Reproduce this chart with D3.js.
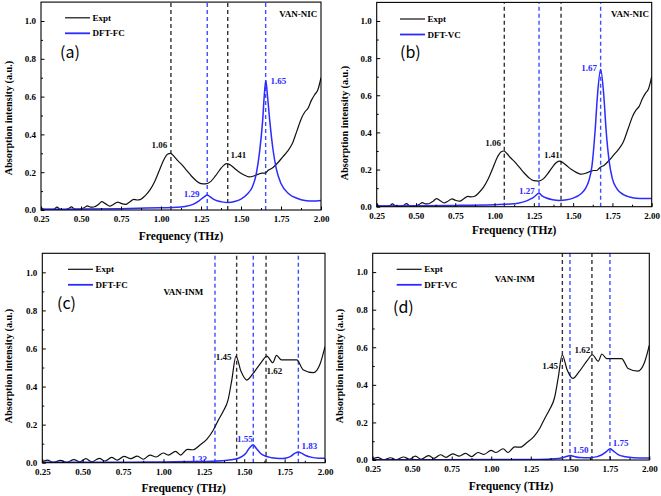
<!DOCTYPE html>
<html><head><meta charset="utf-8">
<script src="https://cdn.jsdelivr.net/npm/d3@7/dist/d3.min.js"></script>
<style>body{margin:0;background:#fff}svg{display:block}</style>
</head><body>
<svg id="c" width="661" height="496"></svg>
<script>
// ---------- DATA ----------
const xTicks = [0.25, 0.50, 0.75, 1.00, 1.25, 1.50, 1.75, 2.00];
const yTicks = [0.0, 0.2, 0.4, 0.6, 0.8, 1.0];

// Experimental spectrum VAN-NIC (panels a, b)
const exptNicFreq = [0.25,0.27,0.30,0.33,0.35,0.37,0.40,0.42,0.44,0.46,0.49,0.52,0.54,0.56,0.58,0.61,0.63,0.65,0.68,0.70,0.73,0.75,0.78,0.80,0.83,0.85,0.87,0.90,0.93,0.96,0.99,1.02,1.04,1.06,1.08,1.10,1.13,1.16,1.19,1.22,1.25,1.28,1.31,1.34,1.37,1.39,1.41,1.43,1.46,1.49,1.52,1.55,1.58,1.61,1.63,1.65,1.67,1.70,1.73,1.76,1.79,1.82,1.85,1.88,1.90,1.92,1.94,1.96,1.98,2.00];
const exptNicVal  = [0.014,0.004,0.003,0.004,0.015,0.004,0.002,0.006,0.017,0.005,0.004,0.012,0.022,0.015,0.016,0.030,0.044,0.035,0.020,0.028,0.042,0.035,0.030,0.040,0.056,0.053,0.055,0.075,0.105,0.15,0.21,0.27,0.295,0.30,0.285,0.265,0.24,0.21,0.18,0.155,0.14,0.138,0.15,0.18,0.215,0.235,0.245,0.24,0.22,0.20,0.185,0.175,0.18,0.19,0.195,0.195,0.21,0.225,0.25,0.28,0.31,0.35,0.42,0.49,0.52,0.54,0.58,0.61,0.635,0.70];

// DFT-FC VAN-NIC (panel a)
const fcNicFreq = [0.25,0.50,0.75,1.00,1.10,1.15,1.20,1.24,1.27,1.29,1.31,1.34,1.38,1.42,1.46,1.50,1.54,1.57,1.595,1.615,1.635,1.645,1.655,1.665,1.68,1.70,1.72,1.75,1.80,1.85,1.90,1.95,2.00];
const fcNicVal  = [0.004,0.005,0.007,0.012,0.014,0.019,0.030,0.050,0.070,0.080,0.068,0.052,0.043,0.040,0.045,0.058,0.085,0.12,0.19,0.30,0.47,0.60,0.685,0.61,0.47,0.32,0.22,0.14,0.085,0.062,0.050,0.047,0.050];

// DFT-VC VAN-NIC (panel b)
const vcNicFreq = [0.25,0.50,0.75,1.00,1.10,1.15,1.20,1.23,1.25,1.283,1.30,1.33,1.37,1.41,1.46,1.50,1.55,1.58,1.60,1.62,1.64,1.655,1.675,1.695,1.71,1.73,1.75,1.78,1.82,1.86,1.90,1.95,2.00];
const vcNicVal  = [0.004,0.005,0.007,0.011,0.014,0.019,0.030,0.042,0.052,0.072,0.060,0.047,0.038,0.034,0.037,0.046,0.070,0.10,0.14,0.22,0.41,0.60,0.74,0.60,0.41,0.24,0.15,0.095,0.065,0.052,0.046,0.044,0.044];

// Experimental spectrum VAN-INM (panels c, d)
const exptInmFreq = [0.25,0.281,0.318,0.363,0.40,0.446,0.483,0.52,0.555,0.603,0.638,0.679,0.714,0.756,0.797,0.838,0.875,0.917,0.954,0.999,1.03,1.075,1.106,1.148,1.185,1.226,1.268,1.309,1.34,1.37,1.40,1.423,1.449,1.48,1.516,1.556,1.608,1.64,1.677,1.70,1.73,1.825,1.866,1.928,1.97,2.00];
const exptInmVal  = [0.005,0.014,0.002,0.012,0.002,0.016,0.004,0.021,0.004,0.023,0.009,0.028,0.014,0.033,0.021,0.035,0.018,0.040,0.030,0.051,0.040,0.060,0.040,0.070,0.068,0.093,0.123,0.172,0.224,0.27,0.33,0.434,0.56,0.48,0.434,0.47,0.53,0.56,0.525,0.564,0.54,0.54,0.487,0.473,0.52,0.61];

// DFT-FC VAN-INM (panel c)
const fcInmFreq = [0.25,0.80,1.00,1.20,1.30,1.38,1.44,1.48,1.51,1.53,1.555,1.575,1.60,1.63,1.67,1.72,1.76,1.79,1.815,1.835,1.855,1.88,1.92,1.96,2.00];
const fcInmVal  = [0.002,0.003,0.004,0.006,0.008,0.012,0.018,0.030,0.050,0.075,0.094,0.075,0.050,0.035,0.026,0.022,0.025,0.035,0.050,0.056,0.050,0.038,0.028,0.024,0.023];

// DFT-VC VAN-INM (panel d)
const vcInmFreq = [0.25,1.00,1.30,1.40,1.45,1.48,1.50,1.52,1.56,1.62,1.67,1.70,1.73,1.752,1.77,1.80,1.85,1.90,2.00];
const vcInmVal  = [0.001,0.002,0.003,0.006,0.012,0.020,0.024,0.020,0.013,0.012,0.018,0.028,0.046,0.060,0.050,0.030,0.017,0.012,0.010];

// Peak marker lines (frequency positions)
const linesA = {black:[1.062,1.417], blue:[1.289,1.654]};
const linesB = {black:[1.062,1.423], blue:[1.283,1.675]};
const linesC = {black:[1.453,1.635], blue:[1.319,1.556,1.835]};
const linesD = {black:[1.450,1.637], blue:[1.498,1.751]};

// Peak labels: text, frequency, intensity anchor
const labelsA = [["1.06",0.99,0.328,"k"],["1.41",1.483,0.275,"k"],["1.29",1.192,0.069,"b"],["1.65",1.733,0.667,"b"]];
const labelsB = [["1.06",0.991,0.327,"k"],["1.41",1.364,0.26,"k"],["1.27",1.205,0.067,"b"],["1.67",1.602,0.731,"b"]];
const labelsC = [["1.45",1.373,0.54,"k"],["1.62",1.686,0.466,"k"],["1.55",1.504,0.107,"b"],["1.83",1.903,0.072,"b"],["1.32",1.221,0.004,"b"]];
const labelsD = [["1.45",1.372,0.484,"k"],["1.62",1.577,0.571,"k"],["1.50",1.566,0.035,"b"],["1.75",1.819,0.074,"b"]];

const sampleNames = ["VAN-NIC","VAN-NIC","VAN-INM","VAN-INM"];
const samplePos = [[1.858,1.02],[1.862,1.02],[1.123,0.879],[1.149,0.945]];
const legendNames = [["Expt","DFT-FC"],["Expt","DFT-VC"],["Expt","DFT-FC"],["Expt","DFT-VC"]];
const panelTags = ["(a)","(b)","(c)","(d)"];

// ---------- LAYOUT ----------
const panels = [
  {L:41,R:321,T:2.1,B:210, ex:[exptNicFreq,exptNicVal], dft:[fcNicFreq,fcNicVal], lines:linesA, labels:labelsA,
   leg:{x:24,y:15.7}, tag:{x:60,y:57.5}, xt:{y:240}, yt:{x:12,y:118}},
  {L:376.7,R:651.7,T:2.4,B:206.7, ex:[exptNicFreq,exptNicVal], dft:[vcNicFreq,vcNicVal], lines:linesB, labels:labelsB,
   leg:{x:23.3,y:16.6}, tag:{x:400,y:57.5}, xt:{y:234}, yt:{x:348,y:123}},
  {L:42.3,R:325,T:253.3,B:462.7, ex:[exptInmFreq,exptInmVal], dft:[fcInmFreq,fcInmVal], lines:linesC, labels:labelsC,
   leg:{x:25.7,y:16}, tag:{x:57,y:309}, xt:{y:492}, yt:{x:12,y:366}},
  {L:372.7,R:649.3,T:253.3,B:460, ex:[exptInmFreq,exptInmVal], dft:[vcInmFreq,vcInmVal], lines:linesD, labels:labelsD,
   leg:{x:24,y:16}, tag:{x:393,y:312.5}, xt:{y:490}, yt:{x:343,y:366}}
];

const BLUE = "#2b2bff", BLUEDASH = "#3d4dff", BLACK = "#111", SERIF = "'Liberation Serif','Times New Roman',serif";
const svg = d3.select("#c");

panels.forEach((p, i) => {
  const x = d3.scaleLinear().domain([0.25, 2.0]).range([p.L, p.R]);
  const y = d3.scaleLinear().domain([0, 1.1]).range([p.B, p.T]);
  const g = svg.append("g");
  const cid = "clip" + i;
  svg.append("clipPath").attr("id", cid).append("rect")
    .attr("x", p.L).attr("y", p.T).attr("width", p.R - p.L).attr("height", p.B - p.T);

  // dashed peak lines
  const dl = g.append("g").attr("clip-path", `url(#${cid})`);
  p.lines.black.forEach(f => dl.append("line").attr("x1", x(f)).attr("x2", x(f)).attr("y1", y(0)).attr("y2", y(1.1))
    .attr("stroke", "#333").attr("stroke-width", 1.4).attr("stroke-dasharray", "4,3"));
  p.lines.blue.forEach(f => dl.append("line").attr("x1", x(f)).attr("x2", x(f)).attr("y1", y(0)).attr("y2", y(1.1))
    .attr("stroke", BLUEDASH).attr("stroke-width", 1.4).attr("stroke-dasharray", "4,3"));

  // curves
  const mk = arr => arr[0].map((f, k) => [f, arr[1][k]]);
  const line = d3.line().x(d => x(d[0])).y(d => y(d[1])).curve(d3.curveMonotoneX);
  const cg = g.append("g").attr("clip-path", `url(#${cid})`);
  cg.append("path").attr("d", line(mk(p.ex))).attr("fill", "none").attr("stroke", BLACK).attr("stroke-width", 1.2);
  cg.append("path").attr("d", line(mk(p.dft))).attr("fill", "none").attr("stroke", BLUE).attr("stroke-width", 1.5);

  // axes
  const xa = g.append("g").attr("transform", `translate(0,${p.B})`)
    .call(d3.axisBottom(x).tickValues(xTicks).tickFormat(d3.format(".2f")).tickSizeInner(-3.5).tickSizeOuter(0).tickPadding(5.6));
  const xm = g.append("g").attr("transform", `translate(0,${p.B})`)
    .call(d3.axisBottom(x).tickValues(d3.range(0.375, 2.0, 0.25)).tickFormat("").tickSizeInner(-2).tickSizeOuter(0));
  const ya = g.append("g").attr("transform", `translate(${p.L},0)`)
    .call(d3.axisLeft(y).tickValues(yTicks).tickFormat(d3.format(".1f")).tickSizeInner(-3.5).tickSizeOuter(0).tickPadding(5));
  const ym = g.append("g").attr("transform", `translate(${p.L},0)`)
    .call(d3.axisLeft(y).tickValues([0.1,0.3,0.5,0.7,0.9]).tickFormat("").tickSizeInner(-2).tickSizeOuter(0));
  [xa, xm, ya, ym].forEach(a => {
    a.select(".domain").remove();
    a.selectAll("line").attr("stroke", "#000").attr("stroke-width", 1);
    a.selectAll("text").attr("font-family", SERIF).attr("font-weight", "bold").attr("font-size", 9).attr("fill", "#000");
  });
  // frame
  g.append("rect").attr("x", p.L).attr("y", p.T).attr("width", p.R - p.L).attr("height", p.B - p.T)
    .attr("fill", "none").attr("stroke", "#000").attr("stroke-width", 1.1);

  // axis titles
  g.append("text").attr("x", (p.L + p.R) / 2).attr("y", p.xt.y).attr("text-anchor", "middle")
    .attr("font-family", SERIF).attr("font-weight", "bold").attr("font-size", 11.5).text("Frequency (THz)");
  g.append("text").attr("transform", `translate(${p.yt.x},${p.yt.y}) rotate(-90)`).attr("text-anchor", "middle")
    .attr("font-family", SERIF).attr("font-weight", "bold").attr("font-size", 10.2).text("Absorption intensity (a.u.)");

  // peak labels
  p.labels.forEach(l => g.append("text").attr("x", x(l[1])).attr("y", y(l[2])).attr("text-anchor", "middle")
    .attr("font-family", SERIF).attr("font-weight", "bold").attr("font-size", 9)
    .attr("fill", l[3] === "b" ? BLUE : "#111").text(l[0]));

  // sample name
  g.append("text").attr("x", x(samplePos[i][0])).attr("y", y(samplePos[i][1])).attr("text-anchor", "middle")
    .attr("font-family", SERIF).attr("font-weight", "bold").attr("font-size", 9).text(sampleNames[i]);

  // legend
  const lx = p.L + p.leg.x, ly = p.T + p.leg.y;
  [[BLACK, 1.2], [BLUE, 1.8]].forEach((s, k) => {
    const yy = ly + k * 15.5;
    g.append("line").attr("x1", lx).attr("x2", lx + 25).attr("y1", yy).attr("y2", yy)
      .attr("stroke", s[0]).attr("stroke-width", s[1]);
    g.append("text").attr("x", lx + 27.5).attr("y", yy + 3).attr("font-family", SERIF).attr("font-weight", "bold")
      .attr("font-size", 9).text(legendNames[i][k]);
  });

  // panel tag
  g.append("text").attr("x", p.tag.x).attr("y", p.tag.y).attr("font-family", "'Noto Sans CJK SC','DejaVu Sans',sans-serif")
    .attr("font-size", 16).text(panelTags[i]);
});
</script>
</body></html>
